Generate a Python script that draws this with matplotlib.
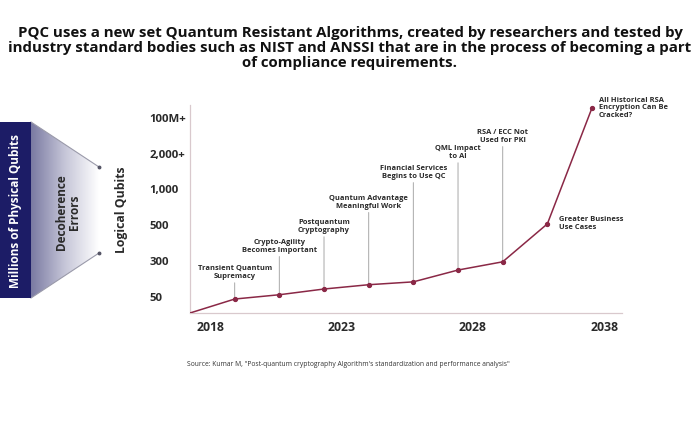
import numpy as np
import matplotlib
matplotlib.use("Agg")
import matplotlib.pyplot as plt
from matplotlib.patches import Polygon, Rectangle
from matplotlib.colors import LinearSegmentedColormap

plt.rcParams['font.family'] = ['Open Sans', 'DejaVu Sans']

# data (y in "rows" of the qubit scale, 0 = 50 ... 5 = 100M+)
step = [0, 1, 2, 3, 4, 5, 6, 7, 8, 9]
qubit_level = [-0.45, -0.06, 0.06, 0.22, 0.34, 0.42, 0.75, 0.98, 2.04, 5.28]
qubit_labels = ['50', '300', '500', '1,000', '2,000+', '100M+']
year_labels = ['2018', '2023', '2028', '2038']
year_pos = [0.45, 3.4, 6.33, 9.28]
milestones = [
    None,
    "Transient Quantum\nSupremacy",
    "Crypto-Agility\nBecomes Important",
    "Postquantum\nCryptography",
    "Quantum Advantage\nMeaningful Work",
    "Financial Services\nBegins to Use QC",
    "QML Impact\nto AI",
    "RSA / ECC Not\nUsed for PKI",
    "Greater Business\nUse Cases",
    "All Historical RSA\nEncryption Can Be\nCracked?",
]
# leader line lengths (px) for the labels standing above the curve
leader_px = [0, 16, 38, 52, 72, 99, 107, 115]

title = ("PQC uses a new set Quantum Resistant Algorithms, created by researchers and tested by\n"
         "industry standard bodies such as NIST and ANSSI that are in the process of becoming a part\n"
         "of compliance requirements.")
source = ('Source: Kumar M, "Post-quantum cryptography Algorithm\'s standardization '
          'and performance analysis"')

line_col = '#8a2846'
txt_col = '#2a2a2a'
W, H = 700, 441

fig = plt.figure(figsize=(7, 4.41), dpi=100)

# background layer in pixel coords for the left-hand decoration
bg = fig.add_axes([0, 0, 1, 1])
bg.set_xlim(0, W)
bg.set_ylim(H, 0)
bg.axis('off')

# gradient funnel
funnel = Polygon([(31, 122), (99, 167), (99, 253), (31, 298)], closed=True,
                 facecolor='none', edgecolor='none')
bg.add_patch(funnel)
cmap = LinearSegmentedColormap.from_list('fade', ['#7a7aa2', '#c6c6d8', '#ffffff'])
grad = np.linspace(0, 1, 256).reshape(1, -1)
im = bg.imshow(grad, cmap=cmap, extent=(31, 99, 298, 122), aspect='auto', zorder=1)
im.set_clip_path(funnel)
bg.plot([31, 99], [122, 167], color='#9a9aaa', lw=0.8, zorder=2)
bg.plot([31, 99], [298, 253], color='#9a9aaa', lw=0.8, zorder=2)
bg.plot([99, 99], [167, 253], 'o', color='#555566', ms=1.8, zorder=3)

bg.add_patch(Rectangle((0, 122), 31, 176, facecolor='#1c1c66', edgecolor='none', zorder=3))
bg.text(15.5, 211, 'Millions of Physical Qubits', rotation=90, color='white',
        fontsize=8.5, fontweight='bold', ha='center', va='center', zorder=4)
bg.text(68, 212, 'Decoherence\nErrors', rotation=90, color=txt_col, fontsize=8.5,
        fontweight='bold', ha='center', va='center', linespacing=1.0, zorder=4)
bg.text(121, 210, 'Logical Qubits', rotation=90, color=txt_col, fontsize=8.8,
        fontweight='bold', ha='center', va='center', zorder=4)

bg.text(W / 2, 48, title, ha='center', va='center', fontsize=10.8,
        fontweight='bold', color='#111111', linespacing=1.08)
bg.text(348, 364, source, ha='center', va='center', fontsize=4.9, color='#333333')

# main chart
x0, x1 = 190, 622
y0, y1 = 313, 105
ax = fig.add_axes([x0 / W, (H - y0) / H, (x1 - x0) / W, (y0 - y1) / H])
ax.patch.set_alpha(0)
ax.set_xlim(0, (x1 - x0) / 44.67)
ax.set_ylim(-0.45, -0.45 + (y0 - y1) / 35.8)

ax.plot(step, qubit_level, color=line_col, lw=1.1, zorder=3)
ax.plot(step[1:], qubit_level[1:], 'o', color=line_col, ms=2.8, zorder=4)

for sp in ['top', 'right']:
    ax.spines[sp].set_visible(False)
for sp in ['left', 'bottom']:
    ax.spines[sp].set_color('#d9c9cd')
    ax.spines[sp].set_linewidth(0.9)

ax.set_yticks(range(len(qubit_labels)))
ax.set_yticklabels(qubit_labels, fontsize=8.2, fontweight='bold', color=txt_col, ha='left')
ax.tick_params(axis='y', length=0, pad=29)
ax.set_xticks(year_pos)
ax.set_xticklabels(year_labels, fontsize=8.8, fontweight='bold', color=txt_col)
ax.tick_params(axis='x', length=0, pad=6)

for i in range(1, 8):
    ax.annotate(milestones[i], xy=(step[i], qubit_level[i]), xycoords='data',
                xytext=(0, (leader_px[i] + 3) * 0.72), textcoords='offset points',
                ha='center', va='bottom', fontsize=5.4, fontweight='bold',
                color=txt_col, linespacing=1.15,
                arrowprops=dict(arrowstyle='-', color='#a8a8a8', lw=0.7,
                                shrinkA=0, shrinkB=0, relpos=(0.5, 0)))

ax.annotate(milestones[8], xy=(step[8], qubit_level[8]), xytext=(12 * 0.72, 0),
            textcoords='offset points', ha='left', va='center', fontsize=5.4,
            fontweight='bold', color=txt_col, linespacing=1.15)
ax.annotate(milestones[9], xy=(step[9], qubit_level[9]), xytext=(7 * 0.72, 0),
            textcoords='offset points', ha='left', va='center', fontsize=5.4,
            fontweight='bold', color=txt_col, linespacing=1.15)

fig.savefig('out.png', dpi=100)
